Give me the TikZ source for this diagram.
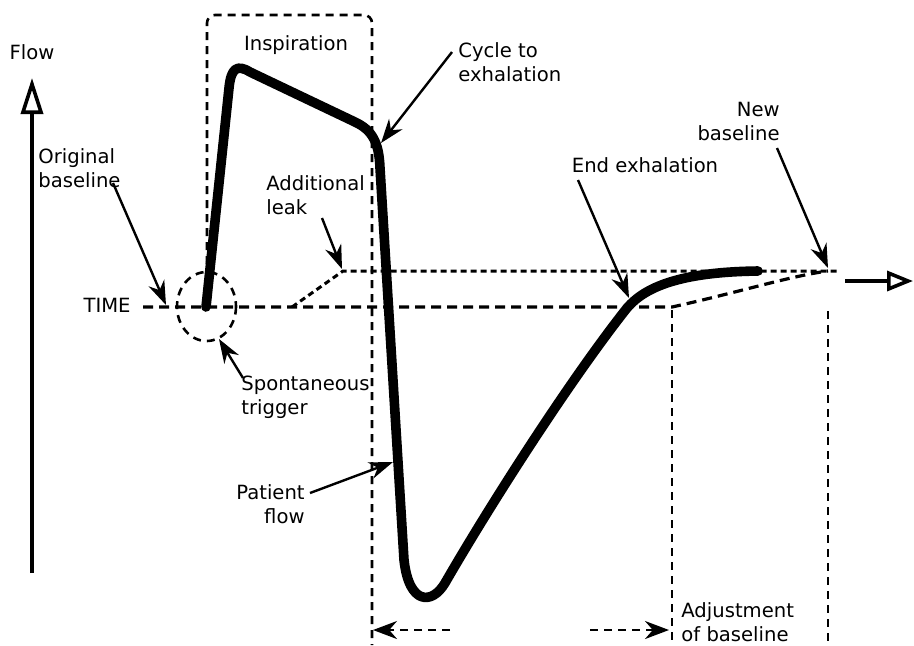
\documentclass[tikz,border=0pt]{standalone}
\usepackage{fontspec}
\setmainfont{DejaVu Sans}
\usetikzlibrary{arrows.meta}

\begin{document}
\begin{tikzpicture}[
  x=0.5pt, y=-0.5pt,
  lbl/.style={inner sep=0pt, font=\fontsize{9.8}{12}\selectfont},
  axis/.style={line width=1.8pt, -{Triangle[open, length=18pt, width=11pt]}},
  pointer/.style={line width=1.2pt, -{Stealth[length=12pt, width=8.5pt]}},
  wave/.style={line width=4.8pt, line cap=round, line join=round},
  base/.style={line width=1.6pt, dash pattern=on 5pt off 3pt},
  leakline/.style={line width=1.5pt, dash pattern=on 3pt off 2pt},
  guide/.style={line width=1.3pt, dash pattern=on 4pt off 3pt},
  span/.style={guide, -{Stealth[length=12pt, width=9pt]}}
]
\useasboundingbox (0,0) rectangle (914,645);

\node[lbl] (flowlbl) at (32,52) {Flow};
\node[lbl, anchor=east] (timelbl) at (131,305) {TIME};
\node[lbl] (inspir) at (296,45) {Inspiration};
\node[lbl, anchor=west, align=left] (cycle) at (458,62) {Cycle to\\exhalation};
\node[lbl, anchor=west, align=left] (origbase) at (38,168) {Original\\baseline};
\node[lbl, anchor=west, align=left] (addleak) at (266,195) {Additional\\leak};
\node[lbl] (endexh) at (645,165) {End exhalation};
\node[lbl, anchor=east, align=right] (newbase) at (780,121) {New\\baseline};
\node[lbl, anchor=west, align=left] (spont) at (241,397) {Spontaneous\\trigger};
\node[lbl, anchor=east, align=right] (patient) at (305,504) {Patient\\flow};
\node[lbl, anchor=west, align=left] (adjust) at (681,622) {Adjustment\\of baseline};

\coordinate (cyc-s) at (452,52);   \coordinate (cyc-t) at (381,143);
\coordinate (org-s) at (113,183);  \coordinate (org-t) at (166,305);
\coordinate (lek-s) at (322,218);  \coordinate (lek-t) at (342,269);
\coordinate (end-s) at (578,180);  \coordinate (end-t) at (629,298);
\coordinate (new-s) at (777,148);  \coordinate (new-t) at (828,268);
\coordinate (spo-s) at (243,378);  \coordinate (spo-t) at (219,339);
\coordinate (pat-s) at (310,493);  \coordinate (pat-t) at (393,462);
\coordinate (insp-l) at (373,630); \coordinate (insp-r) at (450,630);
\coordinate (adj-l) at (590,630);  \coordinate (adj-r) at (669,630);

\draw[axis] (32,573) -- (32,78);
\draw[axis, -{Triangle[open, length=13pt, width=10pt]}] (845,281) -- (913,281);

\draw[guide, rounded corners=4pt] (207,292) -- (207,15) -- (372,15) -- (372,645);
\draw[guide] (672,310) -- (672,645);
\draw[guide] (828,311) -- (828,645);
\draw[guide] (206.5,306.5) ellipse [x radius=29.5, y radius=34.5];

\draw[base] (143,307) -- (672,307) .. controls (740,292) and (790,276) .. (828,271);
\draw[leakline] (292,307) -- (343,271) -- (838,271);

\draw[wave] (206,307) -- (229,88) .. controls (231,68) and (237,64) .. (250,72)
  -- (355,122) .. controls (372,130) and (379,142) .. (380,168)
  -- (404,560) .. controls (409,605) and (432,605) .. (445,583)
  .. controls (490,505) and (570,380) .. (627,308)
  .. controls (645,287) and (680,272) .. (758,271);

\draw[pointer] (cyc-s) -- (cyc-t);
\draw[pointer] (org-s) -- (org-t);
\draw[pointer] (lek-s) -- (lek-t);
\draw[pointer] (end-s) -- (end-t);
\draw[pointer] (new-s) -- (new-t);
\draw[pointer] (spo-s) -- (spo-t);
\draw[pointer] (pat-s) -- (pat-t);
\draw[span] (insp-r) -- (insp-l);
\draw[span] (adj-l) -- (adj-r);
\end{tikzpicture}
\end{document}
